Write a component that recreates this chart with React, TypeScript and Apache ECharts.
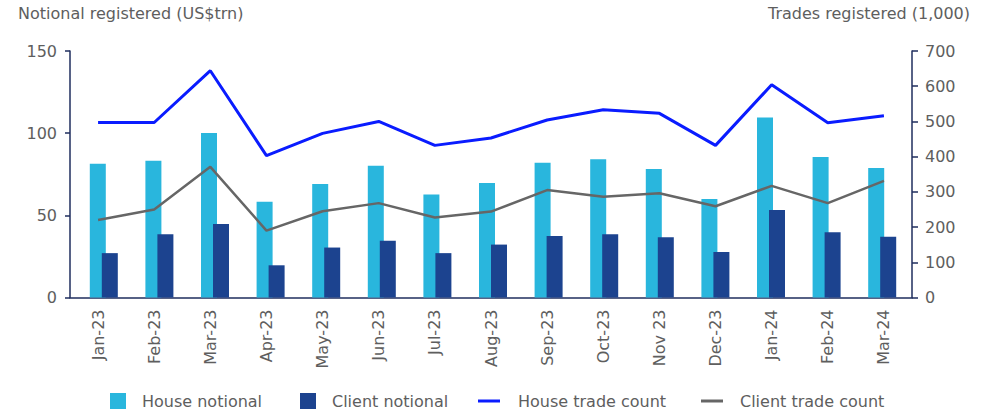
import React, { useEffect, useRef } from "react";
import * as echarts from "echarts";

const categories = ["Jan-23", "Feb-23", "Mar-23", "Apr-23", "May-23", "Jun-23", "Jul-23", "Aug-23", "Sep-23", "Oct-23", "Nov 23", "Dec-23", "Jan-24", "Feb-24", "Mar-24"];
const houseNotional = [81.4, 83.2, 100.1, 58.2, 69.0, 80.2, 62.7, 69.6, 82.0, 84.2, 78.2, 59.9, 109.6, 85.5, 78.8];
const clientNotional = [27.0, 38.5, 44.8, 19.6, 30.4, 34.5, 27.0, 32.2, 37.5, 38.5, 36.7, 27.7, 53.2, 39.7, 36.9];
const houseTradeCount = [497, 497, 644, 403, 466, 500, 432, 453, 504, 533, 523, 432, 604, 496, 516];
const clientTradeCount = [220, 250, 371, 190, 245, 268, 227, 244, 305, 286, 296, 259, 317, 268, 331];
const leftTitle = "Notional registered (US$trn)";
const rightTitle = "Trades registered (1,000)";

const FONT = "DejaVu Sans";
const TEXT = "#5e5e5e";
const AXIS = "#1f2e5e";
const C_HOUSE = "#29b6dd";
const C_CLIENT = "#1c438f";
const C_HLINE = "#0a1cff";
const C_CLINE = "#666666";

export default function App() {
  const ref = useRef<HTMLDivElement>(null);
  useEffect(() => {
    if (!ref.current) return;
    const chart = echarts.init(ref.current, undefined, { renderer: "svg" });
    const legendBase = (name: string, left: number, icon: string, w: number, pad: number) => ({
      data: [name],
      left,
      top: 388,
      orient: "horizontal",
      itemWidth: w,
      itemHeight: 16,
      icon,
      selectedMode: false,
      textStyle: { color: TEXT, fontSize: 16, fontFamily: FONT, padding: [0, 0, 0, pad] },
    });
    chart.setOption({
      animation: false,
      backgroundColor: "#ffffff",
      textStyle: { fontFamily: FONT },
      grid: [
        { left: 70, right: 84, top: 51, bottom: 113.5 },
        { left: 76, right: 86, top: 51, bottom: 113.5 },
      ],
      legend: [
        legendBase("House notional", 105, "rect", 16, 11),
        legendBase("Client notional", 295, "rect", 16, 11),
        legendBase("House trade count", 473, "path://M0,0h22v3h-22z", 22, 13),
        legendBase("Client trade count", 696, "path://M0,0h22v3h-22z", 22, 12),
      ],
      graphic: [
        { type: "text", left: 18, top: 5, style: { text: leftTitle, fill: TEXT, fontSize: 16, fontFamily: FONT } },
        { type: "text", right: 26, top: 5, style: { text: rightTitle, fill: TEXT, fontSize: 16, fontFamily: FONT } },
      ],
      xAxis: [
        {
          type: "category",
          gridIndex: 0,
          data: categories,
          boundaryGap: true,
          axisLine: { show: true, lineStyle: { color: AXIS, width: 1.5 } },
          axisTick: { show: false },
          axisLabel: { rotate: 90, margin: 12, color: TEXT, fontSize: 16, fontFamily: FONT, interval: 0 },
          splitLine: { show: false },
        },
        {
          type: "category",
          gridIndex: 1,
          data: categories,
          boundaryGap: true,
          show: false,
        },
      ],
      yAxis: [
        {
          type: "value",
          gridIndex: 0,
          position: "left",
          min: 0,
          max: 150,
          interval: 50,
          axisLine: { show: true, lineStyle: { color: AXIS, width: 1.5 } },
          axisTick: { show: true, inside: false, length: 5, lineStyle: { color: AXIS, width: 1.5 } },
          axisLabel: { color: TEXT, fontSize: 16, fontFamily: FONT, margin: 13 },
          splitLine: { show: false },
        },
        {
          type: "value",
          gridIndex: 0,
          position: "right",
          min: 0,
          max: 700,
          interval: 100,
          axisLine: { show: true, lineStyle: { color: AXIS, width: 1.5 } },
          axisTick: { show: true, inside: false, length: 6, lineStyle: { color: AXIS, width: 1.5 } },
          axisLabel: { color: TEXT, fontSize: 16, fontFamily: FONT, margin: 13 },
          splitLine: { show: false },
        },
        {
          type: "value",
          gridIndex: 1,
          min: 0,
          max: 150,
          interval: 50,
          show: false,
          splitLine: { show: false },
        },
      ],
      series: [
        {
          name: "House notional",
          type: "bar",
          xAxisIndex: 1,
          yAxisIndex: 2,
          data: houseNotional,
          barWidth: 16,
          barGap: "-25%",
          itemStyle: { color: C_HOUSE },
          z: 1,
        },
        {
          name: "Client notional",
          type: "bar",
          xAxisIndex: 1,
          yAxisIndex: 2,
          data: clientNotional,
          barWidth: 16,
          barGap: "-25%",
          itemStyle: { color: C_CLIENT },
          z: 1,
        },
        {
          name: "House trade count",
          type: "line",
          xAxisIndex: 0,
          yAxisIndex: 1,
          data: houseTradeCount,
          symbol: "none",
          lineStyle: { color: C_HLINE, width: 3 },
          itemStyle: { color: C_HLINE },
          z: 3,
        },
        {
          name: "Client trade count",
          type: "line",
          xAxisIndex: 0,
          yAxisIndex: 1,
          data: clientTradeCount,
          symbol: "none",
          lineStyle: { color: C_CLINE, width: 2.5 },
          itemStyle: { color: C_CLINE },
          z: 3,
        },
      ],
    });
    return () => chart.dispose();
  }, []);
  return <div ref={ref} style={{ position: "fixed", left: 0, top: 0, width: 996, height: 411 }} />;
}
